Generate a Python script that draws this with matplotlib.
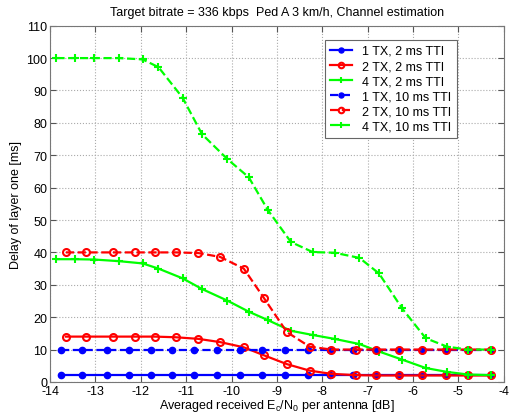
import numpy as np
import matplotlib
matplotlib.use("Agg")
import matplotlib.pyplot as plt

plt.rcParams['font.family'] = ['Liberation Sans', 'DejaVu Sans']
plt.rcParams['mathtext.default'] = 'regular'
plt.rcParams['axes.unicode_minus'] = False

# SNR points (dB) for each transmit config
snr_1tx = [-13.76, -13.30, -12.74, -12.26, -11.78, -11.31, -10.82, -10.31, -9.81, -9.33,
           -8.83, -8.32, -7.84, -7.33, -6.81, -6.30, -5.80, -5.28, -4.79, -4.29]
snr_2tx = [-13.65, -13.20, -12.62, -12.13, -11.69, -11.23, -10.73, -10.25, -9.73, -9.28,
           -8.78, -8.28, -7.80, -7.25, -6.81, -6.30, -5.80, -5.28, -4.79, -4.29]
snr_4tx = [-13.86, -13.45, -13.03, -12.48, -11.96, -11.61, -11.08, -10.65, -10.09, -9.62,
           -9.20, -8.69, -8.21, -7.73, -7.18, -6.75, -6.24, -5.72, -5.25, -4.79, -4.29]

# delay of layer one [ms]
d_1tx_2ms = [2.0] * 20
d_2tx_2ms = [14.0, 14.0, 14.0, 14.0, 14.0, 13.8, 13.3, 12.3, 10.7, 8.2,
             5.5, 3.5, 2.5, 2.1, 2.0, 2.0, 2.0, 2.0, 2.0, 2.0]
d_4tx_2ms = [37.9, 37.9, 37.8, 37.3, 36.6, 35.0, 32.0, 28.7, 25.1, 21.7,
             19.1, 15.8, 14.5, 13.3, 11.7, 9.4, 6.9, 4.3, 3.1, 2.3, 2.1]
d_1tx_10ms = [10.0] * 20
d_2tx_10ms = [40.0, 40.0, 40.0, 40.0, 40.0, 40.0, 39.8, 38.6, 35.0, 25.8,
              15.4, 10.9, 10.0, 10.0, 10.0, 10.0, 10.0, 10.0, 10.0, 10.0]
d_4tx_10ms = [100.0, 100.0, 100.0, 100.0, 99.6, 97.2, 87.8, 76.5, 68.8, 63.2,
              53.1, 43.2, 40.1, 39.9, 38.3, 33.5, 22.7, 13.5, 10.9, 10.0, 10.0]

fig = plt.figure(figsize=(5.13, 4.14), dpi=100)
ax = fig.add_axes([0.0975, 0.075, 0.8845, 0.8605])

lw = 1.6
ax.plot(snr_1tx, d_1tx_2ms, '-', color='#0000ff', lw=lw, marker='o', ms=4.5, mfc='#0000ff', mec='#0000ff', label='1 TX, 2 ms TTI')
ax.plot(snr_2tx, d_2tx_2ms, '-', color='#ff0000', lw=lw, marker='o', ms=5, mfc='none', mec='#ff0000', mew=1.5, label='2 TX, 2 ms TTI')
ax.plot(snr_4tx, d_4tx_2ms, '-', color='#00ff00', lw=lw, marker='+', ms=6, mew=1.5, label='4 TX, 2 ms TTI')
ax.plot(snr_1tx, d_1tx_10ms, '--', color='#0000ff', lw=lw, marker='o', ms=4.5, mfc='#0000ff', mec='#0000ff', label='1 TX, 10 ms TTI')
ax.plot(snr_2tx, d_2tx_10ms, '--', color='#ff0000', lw=lw, marker='o', ms=5, mfc='none', mec='#ff0000', mew=1.5, label='2 TX, 10 ms TTI')
ax.plot(snr_4tx, d_4tx_10ms, '--', color='#00ff00', lw=lw, marker='+', ms=6, mew=1.5, label='4 TX, 10 ms TTI')

ax.set_xlim(-14, -4)
ax.set_ylim(0, 110)
ax.set_xticks(np.arange(-14, -3, 1))
ax.set_yticks(np.arange(0, 111, 10))
ax.tick_params(direction='in', top=True, right=True, labelsize=9, length=4, pad=2, color='#555555')
for s in ax.spines.values():
    s.set_color('#777777')
ax.grid(True, ls=':', color='#aaaaaa', lw=0.8)

ax.set_xlabel(r'Averaged received E$_c$/N$_0$ per antenna [dB]', fontsize=9, labelpad=0)
ax.set_ylabel('Delay of layer one [ms]', fontsize=9, labelpad=3)
ax.set_title('Target bitrate = 336 kbps  Ped A 3 km/h, Channel estimation', fontsize=9, pad=8)

leg = ax.legend(loc='upper right', bbox_to_anchor=(0.896, 0.96), borderaxespad=0,
                fontsize=9, fancybox=False, framealpha=1, edgecolor='#666666',
                handlelength=1.8, labelspacing=0.25, borderpad=0.4, markerscale=0.8)
leg.get_frame().set_linewidth(0.8)

plt.savefig('out.png', dpi=100)
